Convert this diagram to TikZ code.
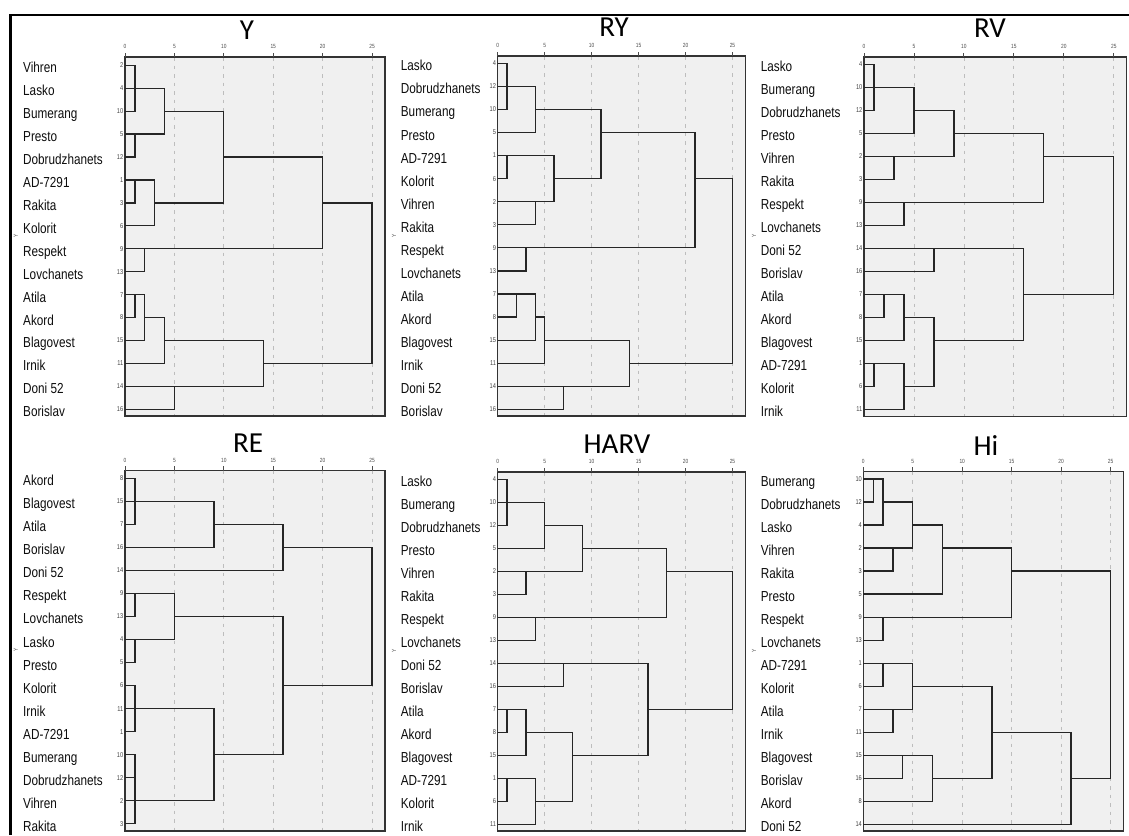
\documentclass[tikz,border=0pt]{standalone}
\usepackage{fontspec}
\newfontfamily\labfam[FakeStretch=0.81]{Liberation Sans}
\newfontfamily\ttlfam{Carlito}
\definecolor{boxgray}{HTML}{F0F0F0}
\definecolor{gridgray}{HTML}{BDBDBD}
\definecolor{dline}{HTML}{262626}
\tikzset{
 boxfill/.style={fill=boxgray},
 boxline/.style={draw=black!80, line width=1.1pt},
 gridl/.style={draw=gridgray, line width=0.8pt, dash pattern=on 3.5pt off 5pt},
 tickl/.style={draw=black!70, line width=0.9pt},
 axlab/.style={font={\labfam\fontsize{6}{7}\selectfont}, text=black!70, inner sep=0},
 dend/.style={draw=dline, line width=1.25pt},
 leaf/.style={font={\labfam\fontsize{14.5}{16}\selectfont}, text=black!95, anchor=base west, inner sep=0},
 num/.style={font={\labfam\fontsize{7}{8}\selectfont}, text=black!75, anchor=east, inner sep=0},
 ttl/.style={font={\ttlfam\fontsize{29}{32}\selectfont}, inner sep=0},
 ymark/.style={font={\labfam\fontsize{6}{7}\selectfont}, text=black!70, inner sep=0, rotate=90},
}
\newcommand\frameP[6]{%
  \fill[boxfill] (#1,#3) rectangle (#5,#4);
  \foreach \v in {5,10,...,25} \draw[gridl] ({#1+#2*\v},#3) -- ({#1+#2*\v},#4);
  \draw[boxline] (#1,#3) rectangle (#5,#4);
  \foreach \v in {0,5,...,25} {
    \draw[tickl] ({#1+#2*\v},#3) -- ({#1+#2*\v},{#3-4.5});
    \node[axlab] (#6t\v) at ({#1+#2*\v},{#3-10.5}) {\v};
  }}
\newcommand\leafs[6]{%
  \foreach \n/\c [count=\i from 0] in {#6} {
    \node[leaf] (#1l\i) at (#2,{#4+#5*\i+7.5}) {\n};
    \node[num] (#1n\i) at (#3,{#4+#5*\i}) {\c};
  }}
\newcommand\mg[5]{\draw[dend] (#1,#2) -| (#5,#4) -- (#3,#4);}
\begin{document}
\begin{tikzpicture}[x=1pt,y=-1pt]
\useasboundingbox (0,0) rectangle (1129,835);
\draw[line width=2.6pt] (10.3,835) -- (10.3,15) -- (1129,15);
% ---------- Y ----------
\node[ttl] (tY) at (247,30) {Y};
\frameP{125}{9.88}{57}{416}{385}{Y}
\leafs{Y}{23}{123.5}{65.3}{22.93}{Vihren/2,Lasko/4,Bumerang/10,Presto/5,Dobrudzhanets/12,AD-7291/1,Rakita/3,Kolorit/6,Respekt/9,Lovchanets/13,Atila/7,Akord/8,Blagovest/15,Irnik/11,Doni 52/14,Borislav/16}
\node[ymark] (Ym) at (15.7,236) {Y};
\begin{scope}[shift={(125,65.3)},x=9.88pt,y=-22.93pt]
\mg{0}{0}{0}{2}{1}
\mg{0}{3}{0}{4}{1}
\mg{0}{1}{0}{3}{4}
\mg{0}{5}{0}{6}{1}
\mg{1}{5}{0}{7}{3}
\mg{4}{2}{3}{6}{10}
\mg{0}{8}{0}{9}{2}
\mg{10}{4}{2}{8}{20}
\mg{0}{10}{0}{11}{1}
\mg{1}{10}{0}{12}{2}
\mg{2}{11}{0}{13}{4}
\mg{0}{14}{0}{15}{5}
\mg{4}{12}{5}{14}{14}
\mg{20}{6}{14}{13}{25}
\end{scope}
% ---------- RY ----------
\node[ttl] (tRY) at (614,27) {RY};
\frameP{497.7}{9.39}{56}{416}{745.5}{RY}
\leafs{RY}{400.7}{496.2}{63.3}{23.07}{Lasko/4,Dobrudzhanets/12,Bumerang/10,Presto/5,AD-7291/1,Kolorit/6,Vihren/2,Rakita/3,Respekt/9,Lovchanets/13,Atila/7,Akord/8,Blagovest/15,Irnik/11,Doni 52/14,Borislav/16}
\node[ymark] (RYm) at (394,236) {Y};
\begin{scope}[shift={(497.7,63.3)},x=9.39pt,y=-23.07pt]
\mg{0}{0}{0}{2}{1}
\mg{0}{1}{0}{3}{4}
\mg{0}{4}{0}{5}{1}
\mg{0}{6}{0}{7}{4}
\mg{1}{4}{4}{6}{6}
\mg{4}{2}{6}{5}{11}
\mg{0}{8}{0}{9}{3}
\mg{11}{3}{3}{8}{21}
\mg{0}{10}{0}{11}{2}
\mg{2}{10}{0}{12}{4}
\mg{4}{11}{0}{13}{5}
\mg{0}{14}{0}{15}{7}
\mg{5}{12}{7}{14}{14}
\mg{21}{5}{14}{13}{25}
\end{scope}
% ---------- RV ----------
\node[ttl] (tRV) at (990,28) {RV};
\frameP{864}{9.99}{57}{416.5}{1126.5}{RV}
\leafs{RV}{760.7}{862.5}{64.3}{23.0}{Lasko/4,Bumerang/10,Dobrudzhanets/12,Presto/5,Vihren/2,Rakita/3,Respekt/9,Lovchanets/13,Doni 52/14,Borislav/16,Atila/7,Akord/8,Blagovest/15,AD-7291/1,Kolorit/6,Irnik/11}
\node[ymark] (RVm) at (754,236) {Y};
\begin{scope}[shift={(864,64.3)},x=9.99pt,y=-23.0pt]
\mg{0}{0}{0}{2}{1}
\mg{0}{1}{0}{3}{5}
\mg{0}{4}{0}{5}{3}
\mg{5}{2}{3}{4}{9}
\mg{0}{6}{0}{7}{4}
\mg{9}{3}{4}{6}{18}
\mg{0}{8}{0}{9}{7}
\mg{0}{10}{0}{11}{2}
\mg{2}{10}{0}{12}{4}
\mg{0}{13}{0}{14}{1}
\mg{1}{13}{0}{15}{4}
\mg{4}{11}{4}{14}{7}
\mg{7}{8}{7}{12}{16}
\mg{18}{4}{16}{10}{25}
\end{scope}
% ---------- RE ----------
\node[ttl] (tRE) at (248,443) {RE};
\frameP{125}{9.88}{470.7}{831}{385}{RE}
\leafs{RE}{23}{123.5}{478.3}{23.03}{Akord/8,Blagovest/15,Atila/7,Borislav/16,Doni 52/14,Respekt/9,Lovchanets/13,Lasko/4,Presto/5,Kolorit/6,Irnik/11,AD-7291/1,Bumerang/10,Dobrudzhanets/12,Vihren/2,Rakita/3}
\node[ymark] (REm) at (15.7,650) {Y};
\begin{scope}[shift={(125,478.3)},x=9.88pt,y=-23.03pt]
\mg{0}{0}{0}{2}{1}
\mg{0}{1}{0}{3}{9}
\mg{9}{2}{0}{4}{16}
\mg{0}{5}{0}{6}{1}
\mg{0}{7}{0}{8}{1}
\mg{1}{5}{1}{7}{5}
\mg{0}{9}{0}{11}{1}
\mg{0}{12}{0}{15}{1}
\draw[dend] (0,13) -- (1,13);
\mg{0}{10}{0}{14}{9}
\mg{5}{6}{9}{12}{16}
\mg{16}{3}{16}{9}{25}
\end{scope}
% ---------- HARV ----------
\node[ttl] (tHARV) at (617,444) {HARV};
\frameP{497.7}{9.39}{472}{831}{745.5}{HA}
\leafs{HA}{400.7}{496.2}{479.3}{23.0}{Lasko/4,Bumerang/10,Dobrudzhanets/12,Presto/5,Vihren/2,Rakita/3,Respekt/9,Lovchanets/13,Doni 52/14,Borislav/16,Atila/7,Akord/8,Blagovest/15,AD-7291/1,Kolorit/6,Irnik/11}
\node[ymark] (HAm) at (394,651) {Y};
\begin{scope}[shift={(497.7,479.3)},x=9.39pt,y=-23.0pt]
\mg{0}{0}{0}{2}{1}
\mg{0}{1}{0}{3}{5}
\mg{0}{4}{0}{5}{3}
\mg{5}{2}{3}{4}{9}
\mg{0}{6}{0}{7}{4}
\mg{9}{3}{4}{6}{18}
\mg{0}{8}{0}{9}{7}
\mg{0}{10}{0}{11}{1}
\mg{1}{10}{0}{12}{3}
\mg{0}{13}{0}{14}{1}
\mg{1}{13}{0}{15}{4}
\mg{3}{11}{4}{14}{8}
\mg{7}{8}{8}{12}{16}
\mg{18}{4}{16}{10}{25}
\end{scope}
% ---------- Hi ----------
\node[ttl] (tHi) at (986,446) {Hi};
\frameP{863.3}{9.89}{471.7}{831}{1123.3}{Hi}
\leafs{Hi}{760.7}{862}{479}{23.02}{Bumerang/10,Dobrudzhanets/12,Lasko/4,Vihren/2,Rakita/3,Presto/5,Respekt/9,Lovchanets/13,AD-7291/1,Kolorit/6,Atila/7,Irnik/11,Blagovest/15,Borislav/16,Akord/8,Doni 52/14}
\node[ymark] (Him) at (754,651) {Y};
\begin{scope}[shift={(863.3,479)},x=9.89pt,y=-23.02pt]
\mg{0}{0}{0}{1}{1}
\mg{1}{0}{0}{2}{2}
\mg{0}{3}{0}{4}{3}
\mg{2}{1}{3}{3}{5}
\mg{5}{2}{0}{5}{8}
\mg{0}{6}{0}{7}{2}
\mg{8}{3}{2}{6}{15}
\mg{0}{8}{0}{9}{2}
\mg{0}{10}{0}{11}{3}
\mg{2}{8}{3}{10}{5}
\mg{0}{12}{0}{13}{4}
\mg{4}{12}{0}{14}{7}
\mg{5}{9}{7}{13}{13}
\mg{13}{11}{0}{15}{21}
\mg{15}{4}{21}{13}{25}
\end{scope}
\end{tikzpicture}
\end{document}
